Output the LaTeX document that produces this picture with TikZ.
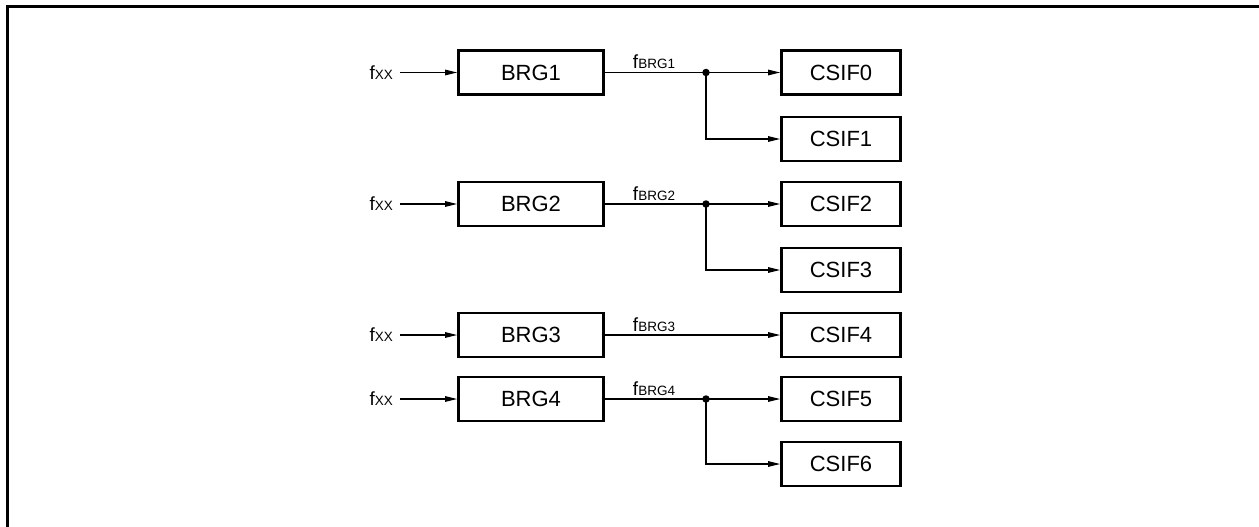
\documentclass[tikz,border=0pt]{standalone}
\usepackage{fontspec}
\setmainfont{Liberation Sans}
\usetikzlibrary{arrows.meta}
\newcommand\smallsub[1]{{\fontsize{13.5}{14}\selectfont #1}}
\begin{document}
\begin{tikzpicture}[x=1pt,y=-1pt,
  blk/.style={draw,line width=2.6pt,minimum height=44pt,inner sep=0pt,font=\fontsize{22}{24}\selectfont},
  brg/.style={blk,minimum width=145pt},
  csif/.style={blk,minimum width=119pt},
  wire/.style={line width=1.2pt},
  arr/.style={wire,-{Triangle[length=12pt,width=5.5pt]}},
  jdot/.style={circle,fill,inner sep=0pt,minimum size=7.5pt},
  lbl/.style={font=\fontsize{19}{21}\selectfont,inner sep=1pt},
  frame/.style={line width=3pt}
]
\useasboundingbox (0,0) rectangle (1259,527);
\draw[frame] (7.5,527) -- (7.5,6.5) -- (1259,6.5);

% BRG blocks
\node[brg] (b1) at (531,72.5) {BRG1};
\node[brg] (b2) at (531,204) {BRG2};
\node[brg] (b3) at (531,335) {BRG3};
\node[brg] (b4) at (531,399) {BRG4};

% CSIF blocks
\node[csif] (c0) at (841,72.5) {CSIF0};
\node[csif] (c1) at (841,139) {CSIF1};
\node[csif] (c2) at (841,204) {CSIF2};
\node[csif] (c3) at (841,270) {CSIF3};
\node[csif] (c4) at (841,335) {CSIF4};
\node[csif] (c5) at (841,399) {CSIF5};
\node[csif] (c6) at (841,464) {CSIF6};

% fxx inputs
\node[lbl,anchor=east] (x1) at (394,72.5) {f\smallsub{XX}};
\node[lbl,anchor=east] (x2) at (394,204) {f\smallsub{XX}};
\node[lbl,anchor=east] (x3) at (394,335) {f\smallsub{XX}};
\node[lbl,anchor=east] (x4) at (394,399) {f\smallsub{XX}};
\draw[arr,shorten <=6pt] (x1) -- (b1);
\draw[arr,shorten <=6pt] (x2) -- (b2);
\draw[arr,shorten <=6pt] (x3) -- (b3);
\draw[arr,shorten <=6pt] (x4) -- (b4);

% junction dots
\node[jdot] (d1) at (706,72.5) {};
\node[jdot] (d2) at (706,204) {};
\node[jdot] (d4) at (706,399) {};

% fBRG labels
\node[lbl,anchor=south] (l1) at (654,70) {f\smallsub{BRG1}};
\node[lbl,anchor=south] (l2) at (654,201.5) {f\smallsub{BRG2}};
\node[lbl,anchor=south] (l3) at (654,332.5) {f\smallsub{BRG3}};
\node[lbl,anchor=south] (l4) at (654,396.5) {f\smallsub{BRG4}};

% connections
\draw[wire] (b1) -- (d1.center);
\draw[arr] (d1.center) -- (c0);
\draw[arr] (d1.center) |- (c1);

\draw[wire] (b2) -- (d2.center);
\draw[arr] (d2.center) -- (c2);
\draw[arr] (d2.center) |- (c3);

\draw[arr] (b3) -- (c4);

\draw[wire] (b4) -- (d4.center);
\draw[arr] (d4.center) -- (c5);
\draw[arr] (d4.center) |- (c6);
\end{tikzpicture}
\end{document}
